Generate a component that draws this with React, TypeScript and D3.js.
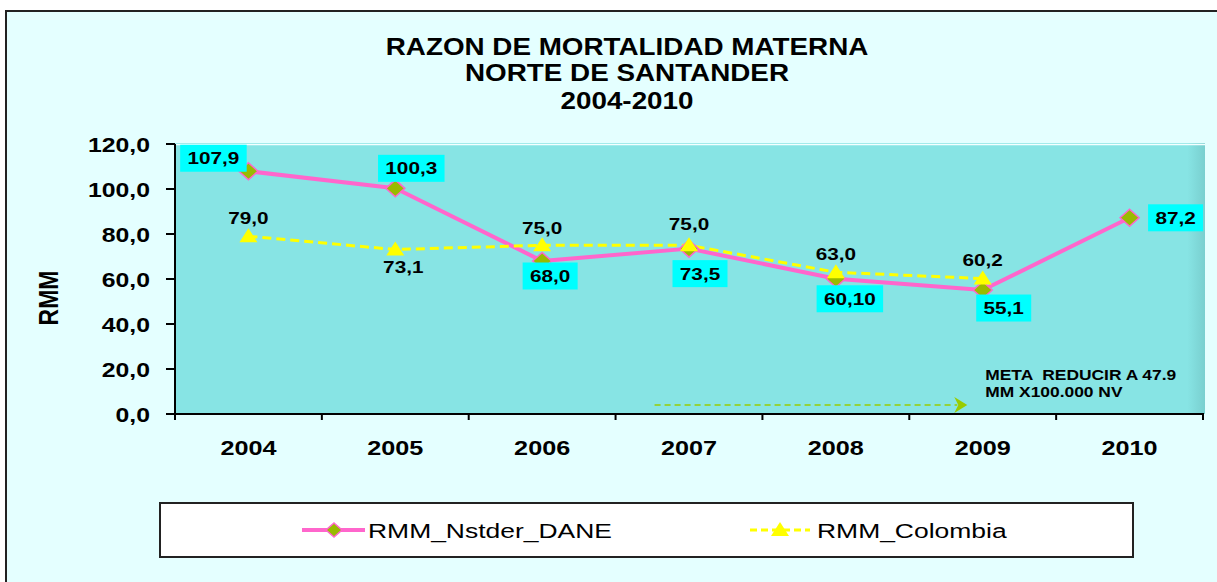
import React, { useEffect, useRef } from "react";
import * as d3 from "d3";

const years = ["2004", "2005", "2006", "2007", "2008", "2009", "2010"];
const nstderValues = [107.9, 100.3, 68.0, 73.5, 60.1, 55.1, 87.2];
const nstderLabels = ["107,9", "100,3", "68,0", "73,5", "60,10", "55,1", "87,2"];
const colombiaValues: (number | null)[] = [79.0, 73.1, 75.0, 75.0, 63.0, 60.2, null];
const colombiaLabels = ["79,0", "73,1", "75,0", "75,0", "63,0", "60,2", ""];
const yTicks = [0, 20, 40, 60, 80, 100, 120];
const titleLines = ["RAZON DE MORTALIDAD MATERNA", "NORTE DE SANTANDER", "2004-2010"];
const metaLines = ["META  REDUCIR A 47.9", "MM X100.000 NV"];
const seriesNames = ["RMM_Nstder_DANE", "RMM_Colombia"];

// label placement relative to each point (dx, dy of label center)
const nstderLabelOffset: [number, number][] = [
  [-35, -13], [16, -20], [8, 15], [11, 25], [14, 20], [21, 18], [46, 0],
];
const colombiaLabelOffset: [number, number][] = [
  [0, -18], [8, 17], [0, -17], [0, -21], [0, -18], [0, -19], [0, 0],
];

const FONT = "'Liberation Sans', Arial, sans-serif";
const SX = 1.22; // the original picture is stretched horizontally

const App: React.FC = () => {
  const svgRef = useRef<SVGSVGElement>(null);

  useEffect(() => {
    if (!svgRef.current) return;
    const svg = d3.select(svgRef.current);
    const width = 1217;
    const height = 582;
    svg.attr("width", width).attr("height", height);

    const plot = { left: 175, right: 1205, top: 143, bottom: 414 };

    const x = d3.scaleBand<string>().domain(years).range([plot.left, 1203]);
    const y = d3.scaleLinear().domain([0, 120]).range([plot.bottom, 144]);
    const cx = (yr: string) => (x(yr) as number) + x.bandwidth() / 2;
    const fmt = (v: number) => d3.format(".1f")(v).replace(".", ",");

    const stretchedText = (
      parent: d3.Selection<any, any, any, any>,
      tx: number,
      ty: number,
      text: string,
      size: number,
      weight: string,
      anchor: string,
      sx = SX
    ) =>
      parent
        .append("text")
        .attr("transform", `translate(${tx},${ty}) scale(${sx},1)`)
        .attr("text-anchor", anchor)
        .attr("font-family", FONT)
        .attr("font-size", size)
        .attr("font-weight", weight)
        .attr("fill", "#000")
        .style("white-space", "pre")
        .text(text);

    // outer chart area
    svg
      .append("rect")
      .attr("x", 6)
      .attr("y", 11)
      .attr("width", 1240)
      .attr("height", 600)
      .attr("fill", "#e4ffff")
      .attr("stroke", "#222")
      .attr("stroke-width", 2);

    // title
    titleLines.forEach((t, i) => {
      stretchedText(svg, 627, [55, 81, 109][i], t, 23, "bold", "middle", 1.21);
    });

    // plot background
    const defs = svg.append("defs");
    const grad = defs
      .append("linearGradient")
      .attr("id", "plotGrad")
      .attr("x1", "0%")
      .attr("x2", "100%");
    grad.append("stop").attr("offset", "0%").attr("stop-color", "#87e4e4");
    grad.append("stop").attr("offset", "98.3%").attr("stop-color", "#87e4e4");
    grad.append("stop").attr("offset", "100%").attr("stop-color", "#79cfcf");

    svg
      .append("rect")
      .attr("x", plot.left)
      .attr("y", plot.top)
      .attr("width", plot.right - plot.left)
      .attr("height", plot.bottom - plot.top)
      .attr("fill", "url(#plotGrad)");
    svg
      .append("line")
      .attr("x1", plot.left)
      .attr("x2", plot.right)
      .attr("y1", plot.top + 1.5)
      .attr("y2", plot.top + 1.5)
      .attr("stroke", "#f4ffff")
      .attr("stroke-width", 1.5);

    // axes
    const axes = svg.append("g").attr("stroke", "#000").attr("stroke-width", 2);
    axes
      .append("line")
      .attr("x1", plot.left)
      .attr("x2", plot.left)
      .attr("y1", y(120))
      .attr("y2", plot.bottom);
    axes
      .append("line")
      .attr("x1", plot.left - 9)
      .attr("x2", 1204)
      .attr("y1", plot.bottom)
      .attr("y2", plot.bottom);
    yTicks.forEach((t) => {
      axes
        .append("line")
        .attr("x1", plot.left - 9)
        .attr("x2", plot.left)
        .attr("y1", y(t))
        .attr("y2", y(t));
      stretchedText(svg, 150, y(t) + 7.5, fmt(t), 21, "bold", "end", 1.18);
    });
    [...years.map((yr) => x(yr) as number), 1203].forEach((bx) => {
      axes
        .append("line")
        .attr("x1", bx)
        .attr("x2", bx)
        .attr("y1", plot.bottom)
        .attr("y2", plot.bottom + 6);
    });
    years.forEach((yr) => {
      stretchedText(svg, cx(yr), 455, yr, 21, "bold", "middle", 1.2);
    });

    // y axis title
    svg
      .append("text")
      .attr("transform", `translate(58,298) scale(1.2,1) rotate(-90)`)
      .attr("text-anchor", "middle")
      .attr("font-family", FONT)
      .attr("font-size", 23)
      .attr("font-weight", "bold")
      .text("RMM");

    // target annotation
    const arrowY = y(4);
    const ax0 = (x("2007") as number) + 39;
    const ax1 = (x("2009") as number) + 58;
    svg
      .append("line")
      .attr("x1", ax0)
      .attr("x2", ax1 - 10)
      .attr("y1", arrowY)
      .attr("y2", arrowY)
      .attr("stroke", "#99cc00")
      .attr("stroke-width", 1.5)
      .attr("stroke-dasharray", "6,4");
    svg
      .append("path")
      .attr("d", `M${ax1 - 13},${arrowY - 8} L${ax1},${arrowY} L${ax1 - 13},${arrowY + 8} L${ax1 - 9},${arrowY} Z`)
      .attr("fill", "#99cc00");
    metaLines.forEach((t, i) => {
      stretchedText(svg, (x("2009") as number) + 76, [380, 397][i], t, 14.5, "bold", "start", 1.2);
    });

    // lines
    const nstderLine = d3
      .line<number>()
      .x((_, i) => cx(years[i]))
      .y((d) => y(d));
    svg
      .append("path")
      .datum(nstderValues)
      .attr("fill", "none")
      .attr("stroke", "#ff66cc")
      .attr("stroke-width", 4)
      .attr("stroke-linejoin", "round")
      .attr("d", nstderLine);

    const colombiaLine = d3
      .line<number | null>()
      .defined((d) => d !== null)
      .x((_, i) => cx(years[i]))
      .y((d) => y(d as number));
    svg
      .append("path")
      .datum(colombiaValues)
      .attr("fill", "none")
      .attr("stroke", "#ffff00")
      .attr("stroke-width", 3)
      .attr("stroke-dasharray", "9,5")
      .attr("d", colombiaLine);

    const diamond = (s: number) => `M0,${-s} L${s + 1},0 L0,${s} L${-s - 1},0 Z`;
    const triangle = "M0,-8 L9,6 L-9,6 Z";

    // markers
    nstderValues.forEach((v, i) => {
      svg
        .append("path")
        .attr("transform", `translate(${cx(years[i])},${y(v)})`)
        .attr("d", diamond(8.5))
        .attr("fill", "#99bb00")
        .attr("stroke", "#ff66cc")
        .attr("stroke-width", 1.5);
    });
    colombiaValues.forEach((v, i) => {
      if (v === null) return;
      svg
        .append("path")
        .attr("transform", `translate(${cx(years[i])},${y(v)})`)
        .attr("d", triangle)
        .attr("fill", "#ffff00");
    });

    // data labels
    nstderValues.forEach((v, i) => {
      const [dx, dy] = nstderLabelOffset[i];
      const g = svg
        .append("g")
        .attr("transform", `translate(${cx(years[i]) + dx},${y(v) + dy}) scale(${SX},1)`);
      const rect = g.append("rect").attr("fill", "#00ffff");
      const txt = g
        .append("text")
        .attr("y", 6)
        .attr("text-anchor", "middle")
        .attr("font-family", FONT)
        .attr("font-size", 17)
        .attr("font-weight", "bold")
        .text(nstderLabels[i]);
      const len = (txt.node() as SVGTextElement).getComputedTextLength();
      rect
        .attr("x", -len / 2 - 6)
        .attr("width", len + 12)
        .attr("y", -13.5)
        .attr("height", 27);
    });
    colombiaValues.forEach((v, i) => {
      if (v === null) return;
      const [dx, dy] = colombiaLabelOffset[i];
      stretchedText(svg, cx(years[i]) + dx, y(v) + dy + 6, colombiaLabels[i], 17, "bold", "middle");
    });

    // legend
    svg
      .append("rect")
      .attr("x", 160)
      .attr("y", 503)
      .attr("width", 973)
      .attr("height", 54)
      .attr("fill", "#ffffff")
      .attr("stroke", "#222")
      .attr("stroke-width", 2);
    const ly = 530;
    svg
      .append("line")
      .attr("x1", 302)
      .attr("x2", 365)
      .attr("y1", ly)
      .attr("y2", ly)
      .attr("stroke", "#ff66cc")
      .attr("stroke-width", 4);
    svg
      .append("path")
      .attr("transform", `translate(334,${ly})`)
      .attr("d", diamond(7))
      .attr("fill", "#99bb00")
      .attr("stroke", "#ff66cc")
      .attr("stroke-width", 1.5);
    stretchedText(svg, 368, ly + 8, seriesNames[0], 21, "normal", "start", 1.26);

    svg
      .append("line")
      .attr("x1", 750)
      .attr("x2", 810)
      .attr("y1", ly)
      .attr("y2", ly)
      .attr("stroke", "#ffff00")
      .attr("stroke-width", 3)
      .attr("stroke-dasharray", "7,4");
    svg
      .append("path")
      .attr("transform", `translate(780,${ly})`)
      .attr("d", triangle)
      .attr("fill", "#ffff00");
    stretchedText(svg, 817, ly + 8, seriesNames[1], 21, "normal", "start", 1.26);

    return () => {
      svg.selectAll("*").remove();
    };
  }, []);

  return (
    <svg
      ref={svgRef}
      style={{ position: "absolute", left: 0, top: 0, background: "#ffffff" }}
    />
  );
};

export default App;
